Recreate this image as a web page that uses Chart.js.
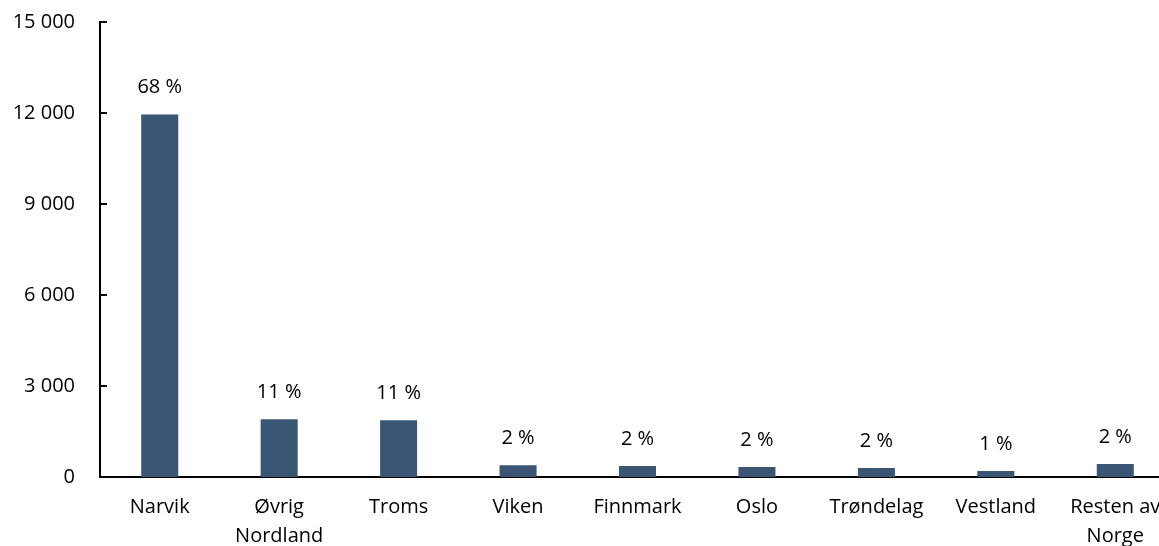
<!DOCTYPE html>
<html lang="no">
<head>
<meta charset="UTF-8">
<title>Fordeling</title>
<script src="https://cdn.jsdelivr.net/npm/chart.js"></script>
<style>
    html, body { margin: 0; padding: 0; background: #fff; overflow: hidden; }
    .wrap { position: relative; width: 1200px; height: 546px; }
</style>
</head>
<body>
<div class="wrap"><canvas id="chart"></canvas></div>
<script>
// data
const categories = ['Narvik', ['Øvrig', 'Nordland'], 'Troms', 'Viken', 'Finnmark', 'Oslo', 'Trøndelag', 'Vestland', ['Resten av', 'Norge']];
const values = [11950, 1900, 1870, 390, 360, 330, 300, 200, 430];
const shareLabels = ['68 %', '11 %', '11 %', '2 %', '2 %', '2 %', '2 %', '1 %', '2 %'];
const yTicks = [0, 3000, 6000, 9000, 12000, 15000];

const FONT = '"Open Sans", sans-serif';
const BAR = '#3B5675';

// tick marks pointing into the plot, and percent labels above bars
const extras = {
    id: 'extras',
    afterDatasetsDraw(chart) {
        const ctx = chart.ctx;
        const y = chart.scales.y;
        const left = chart.chartArea.left;
        ctx.save();
        ctx.strokeStyle = '#000';
        ctx.lineWidth = 2;
        yTicks.forEach(v => {
            if (v === 0) return;
            const py = Math.round(y.getPixelForValue(v));
            ctx.beginPath();
            ctx.moveTo(left, py);
            ctx.lineTo(left + 7, py);
            ctx.stroke();
        });
        ctx.fillStyle = '#000';
        ctx.font = '20px ' + FONT;
        ctx.textAlign = 'center';
        ctx.textBaseline = 'middle';
        chart.getDatasetMeta(0).data.forEach((bar, i) => {
            ctx.fillText(shareLabels[i], bar.x, bar.y - 27);
        });
        ctx.restore();
    }
};

new Chart(document.getElementById('chart'), {
    type: 'bar',
    data: {
        labels: categories,
        datasets: [{
            data: values,
            backgroundColor: BAR,
            borderWidth: 0,
            categoryPercentage: 1,
            barPercentage: 0.31
        }]
    },
    options: {
        responsive: true,
        maintainAspectRatio: false,
        animation: false,
        layout: { padding: { top: 22, right: 25, left: 0, bottom: 0 } },
        plugins: { legend: { display: false }, tooltip: { enabled: false } },
        scales: {
            x: {
                grid: { display: false, drawTicks: false },
                border: { display: true, color: '#000', width: 2 },
                ticks: {
                    color: '#000',
                    font: { family: FONT, size: 20, lineHeight: 1.45 },
                    padding: 16,
                    maxRotation: 0,
                    autoSkip: false
                },
                afterFit(scale) {
                    scale.height = 69;
                    scale.paddingLeft = 0;
                    scale.paddingRight = 0;
                }
            },
            y: {
                min: 0,
                max: 15000,
                afterBuildTicks(scale) { scale.ticks = yTicks.map(v => ({ value: v })); },
                grid: { display: false, drawTicks: false },
                border: { display: true, color: '#000', width: 2 },
                ticks: {
                    color: '#000',
                    font: { family: FONT, size: 20 },
                    padding: 25,
                    callback: v => String(v).replace(/\B(?=(\d{3})+(?!\d))/g, ' ')
                },
                afterFit(scale) {
                    scale.width = 100;
                    scale.paddingTop = 0;
                    scale.paddingBottom = 0;
                }
            }
        }
    },
    plugins: [extras]
});
</script>
</body>
</html>
